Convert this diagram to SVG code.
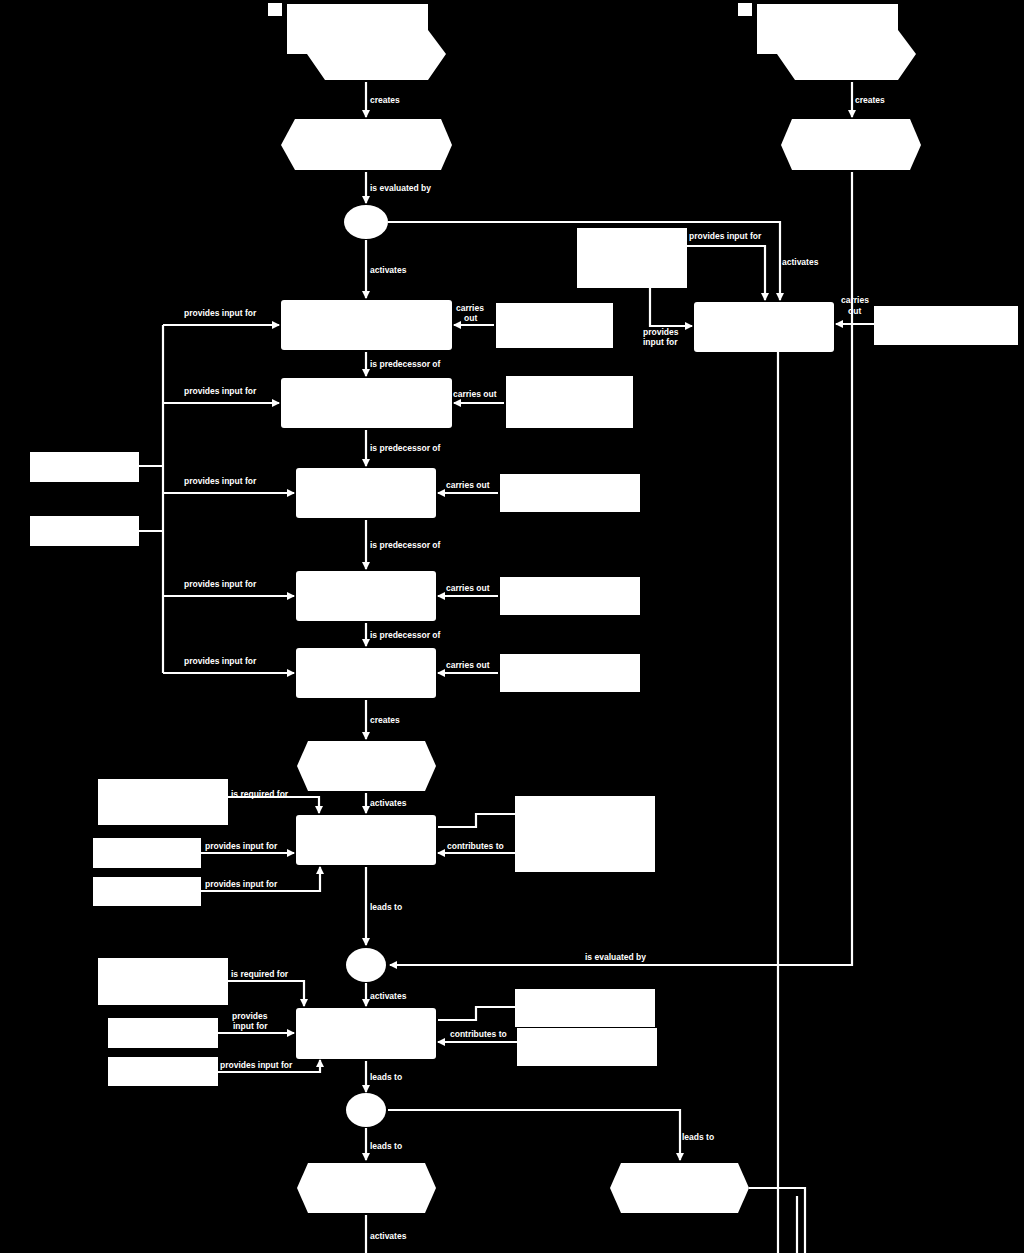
<svg xmlns="http://www.w3.org/2000/svg" width="1024" height="1253" viewBox="0 0 1024 1253">
<defs>
<marker id="a" markerWidth="8" markerHeight="8" refX="7" refY="4" orient="auto" markerUnits="userSpaceOnUse"><path d="M0,0 L8,4 L0,8 Z" fill="#fff"/></marker>
<style>
.n{fill:#fff}
.c{fill:none;stroke:#fff;stroke-width:2.2}
.c.r{marker-end:url(#a)}
text{fill:#fff;font-family:"Liberation Sans",Arial,sans-serif;font-size:8.5px;font-weight:bold}
</style>
</defs>
<rect width="1024" height="1253" fill="#000"/>
<g id="n-start1"><rect class="n" x="268" y="3" width="14" height="13"/><path class="n" d="M287,4 H428 V30 L446,54 L428,80 H325 L307,54 H287 Z"/></g>
<g id="n-start2"><rect class="n" x="738" y="3" width="14" height="13"/><path class="n" d="M757,4 H898 V30 L916,54 L898,80 H795 L777,54 H757 Z"/></g>
<g id="n-hex1"><path class="n" d="M295,119 H441 L452,145 L441,170 H295 L281,145 Z"/></g>
<g id="n-hex2"><path class="n" d="M792,119 H910 L921,145 L910,170 H792 L781,145 Z"/></g>
<g id="n-e1"><ellipse class="n" cx="366" cy="222" rx="22" ry="17"/></g>
<g id="n-a1"><rect class="n" x="281" y="300" width="171" height="50" rx="3"/></g>
<g id="n-rin"><rect class="n" x="577" y="228" width="110" height="60"/></g>
<g id="n-ract"><rect class="n" x="694" y="302" width="140" height="50" rx="3"/></g>
<g id="n-rfar"><rect class="n" x="874" y="306" width="144" height="39"/></g>
<g id="n-co1"><rect class="n" x="496" y="303" width="117" height="45"/></g>
<g id="n-a2"><rect class="n" x="281" y="378" width="171" height="50" rx="3"/></g>
<g id="n-co2"><rect class="n" x="506" y="376" width="127" height="52"/></g>
<g id="n-a3"><rect class="n" x="296" y="468" width="140" height="50" rx="3"/></g>
<g id="n-co3"><rect class="n" x="500" y="474" width="140" height="38"/></g>
<g id="n-a4"><rect class="n" x="296" y="571" width="140" height="50" rx="3"/></g>
<g id="n-co4"><rect class="n" x="500" y="577" width="140" height="38"/></g>
<g id="n-a5"><rect class="n" x="296" y="648" width="140" height="50" rx="3"/></g>
<g id="n-co5"><rect class="n" x="500" y="654" width="140" height="38"/></g>
<g id="n-l1"><rect class="n" x="30" y="452" width="109" height="30"/></g>
<g id="n-l2"><rect class="n" x="30" y="516" width="109" height="30"/></g>
<g id="n-hex3"><path class="n" d="M308,741 H425 L436,766 L425,791 H308 L297,766 Z"/></g>
<g id="n-b1"><rect class="n" x="296" y="815" width="140" height="50" rx="3"/></g>
<g id="n-bl1"><rect class="n" x="98" y="779" width="130" height="46"/></g>
<g id="n-bl2"><rect class="n" x="93" y="838" width="108" height="30"/></g>
<g id="n-bl3"><rect class="n" x="93" y="877" width="108" height="29"/></g>
<g id="n-br1"><rect class="n" x="515" y="796" width="140" height="76"/></g>
<g id="n-e2"><ellipse class="n" cx="366" cy="965" rx="20" ry="17"/></g>
<g id="n-b2"><rect class="n" x="296" y="1008" width="140" height="51" rx="3"/></g>
<g id="n-cl1"><rect class="n" x="98" y="958" width="130" height="47"/></g>
<g id="n-cl2"><rect class="n" x="108" y="1018" width="110" height="30"/></g>
<g id="n-cl3"><rect class="n" x="108" y="1057" width="110" height="29"/></g>
<g id="n-cr1"><rect class="n" x="515" y="989" width="140" height="38"/></g>
<g id="n-cr2"><rect class="n" x="517" y="1028" width="140" height="38"/></g>
<g id="n-e3"><ellipse class="n" cx="366" cy="1110" rx="20" ry="17"/></g>
<g id="n-hex4"><path class="n" d="M308,1163 H425 L436,1188 L425,1213 H308 L297,1188 Z"/></g>
<g id="n-hex5"><path class="n" d="M621,1163 H738 L749,1188 L738,1213 H621 L610,1188 Z"/></g>
<g id="connectors">
<path class="c r" d="M366,82 V117"/><text x="370" y="103">creates</text>
<path class="c r" d="M852,82 V117"/><text x="855" y="103">creates</text>
<path class="c r" d="M366,172 V203"/><text x="370" y="191">is evaluated by</text>
<path class="c r" d="M366,240 V298"/><text x="370" y="273">activates</text>
<path class="c r" d="M388,222 H780 V300"/><text x="782" y="265">activates</text>
<path class="c r" d="M687,246 H765 V300"/><text x="689" y="239">provides input for</text>
<path class="c r" d="M650,288 V326 H692"/><text x="643" y="335">provides</text><text x="643" y="345">input for</text>
<path class="c r" d="M874,324 H836"/><text x="841" y="303">carries</text><text x="848" y="314">out</text>
<path class="c r" d="M852,172 V965 H390"/><text x="585" y="960">is evaluated by</text>
<path class="c" d="M778,352 V1253"/>
<path class="c" d="M749,1188 H805 V1253"/>
<path class="c" d="M797,1196 V1253"/>
<path class="c" d="M163,325 V673"/>
<path class="c r" d="M163,325 H279"/><text x="184" y="316">provides input for</text>
<path class="c r" d="M163,403 H279"/><text x="184" y="394">provides input for</text>
<path class="c r" d="M163,493 H294"/><text x="184" y="484">provides input for</text>
<path class="c r" d="M163,596 H294"/><text x="184" y="587">provides input for</text>
<path class="c r" d="M163,673 H294"/><text x="184" y="664">provides input for</text>
<path class="c" d="M139,466 H163 M139,531 H163"/>
<path class="c r" d="M494,325 H454"/><text x="456" y="311">carries</text><text x="464" y="321">out</text>
<path class="c r" d="M504,403 H454"/><text x="453" y="397">carries out</text>
<path class="c r" d="M498,493 H438"/><text x="446" y="488">carries out</text>
<path class="c r" d="M498,596 H438"/><text x="446" y="591">carries out</text>
<path class="c r" d="M498,673 H438"/><text x="446" y="668">carries out</text>
<path class="c r" d="M366,352 V376"/><text x="370" y="367">is predecessor of</text>
<path class="c r" d="M366,430 V466"/><text x="370" y="451">is predecessor of</text>
<path class="c r" d="M366,520 V569"/><text x="370" y="548">is predecessor of</text>
<path class="c r" d="M366,623 V646"/><text x="370" y="638">is predecessor of</text>
<path class="c r" d="M366,700 V739"/><text x="370" y="723">creates</text>
<path class="c r" d="M366,793 V813"/><text x="370" y="806">activates</text>
<path class="c r" d="M228,797 H319 V813"/><text x="231" y="797">is required for</text>
<path class="c r" d="M201,853 H294"/><text x="205" y="849">provides input for</text>
<path class="c r" d="M201,891 H320 V867"/><text x="205" y="887">provides input for</text>
<path class="c" d="M438,827 H476 V814 H515"/>
<path class="c r" d="M515,853 H438"/><text x="447" y="849">contributes to</text>
<path class="c r" d="M366,867 V945"/><text x="370" y="910">leads to</text>
<path class="c r" d="M366,983 V1006"/><text x="370" y="999">activates</text>
<path class="c r" d="M228,981 H304 V1006"/><text x="231" y="977">is required for</text>
<path class="c r" d="M218,1033 H294"/><text x="232" y="1019">provides</text><text x="233" y="1029">input for</text>
<path class="c r" d="M218,1072 H320 V1060"/><text x="220" y="1068">provides input for</text>
<path class="c" d="M438,1020 H476 V1007 H515"/>
<path class="c r" d="M517,1042 H438"/><text x="450" y="1037">contributes to</text>
<path class="c r" d="M366,1061 V1092"/><text x="370" y="1080">leads to</text>
<path class="c r" d="M388,1110 H680 V1160"/><text x="682" y="1140">leads to</text>
<path class="c r" d="M366,1128 V1160"/><text x="370" y="1149">leads to</text>
<path class="c" d="M366,1215 V1253"/><text x="370" y="1239">activates</text>
</g>
</svg>
